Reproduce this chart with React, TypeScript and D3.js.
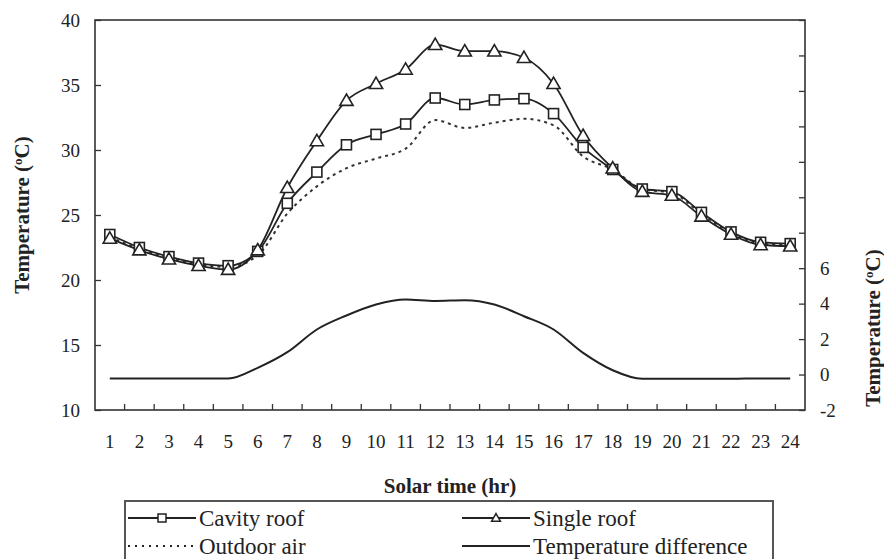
import React, { useEffect, useRef } from "react";
import * as d3 from "d3";

const hours = d3.range(1, 25);
const cavityRoof = [23.5, 22.5, 21.8, 21.3, 21.1, 22.2, 25.9, 28.3, 30.4, 31.2, 32.0, 34.0, 33.5, 33.85, 33.95, 32.8, 30.2, 28.5, 27.0, 26.8, 25.2, 23.7, 22.9, 22.8];
const singleRoof = [23.2, 22.3, 21.6, 21.1, 20.8, 22.3, 27.1, 30.7, 33.8, 35.1, 36.2, 38.1, 37.6, 37.6, 37.1, 35.1, 31.1, 28.6, 26.8, 26.5, 24.9, 23.5, 22.7, 22.6];
const outdoorAir = [23.3, 22.4, 21.7, 21.2, 21.0, 21.9, 25.1, 27.2, 28.6, 29.35, 30.1, 32.3, 31.7, 32.1, 32.4, 31.9, 29.5, 28.5, 27.0, 26.7, 25.1, 23.6, 22.8, 22.7];
const tempDiff = [-0.22, -0.22, -0.23, -0.23, -0.23, 0.38, 1.26, 2.54, 3.33, 3.95, 4.23, 4.15, 4.19, 3.95, 3.29, 2.54, 1.22, 0.24, -0.24, -0.24, -0.24, -0.24, -0.22, -0.22];
const leftTicks = [10, 15, 20, 25, 30, 35, 40];
const rightTicks = d3.range(-2, 21, 2);
const rightLabelled = [-2, 0, 2, 4, 6];

const ink = "#222";
const serif = "'Liberation Serif', Tinos, 'Noto Serif', 'DejaVu Serif', Times, serif";

export default function App() {
  const svgRef = useRef<SVGSVGElement>(null);

  useEffect(() => {
    const svg = d3.select(svgRef.current);
    svg.selectAll("*").remove();

    const left = 95, right = 805, top = 20, bottom = 410;

    const x = d3.scaleBand<number>().domain(hours).range([left, right]);
    const cx = (h: number) => (x(h) as number) + x.bandwidth() / 2;
    const y = d3.scaleLinear().domain([10, 40]).range([bottom, top]);
    const yr = d3.scaleLinear().domain([-2, 20]).range([bottom, top]);

    // frame
    svg.append("rect")
      .attr("x", left).attr("y", top)
      .attr("width", right - left).attr("height", bottom - top)
      .attr("fill", "none").attr("stroke", "#333").attr("stroke-width", 1.6);

    // left axis (ticks inward)
    const gl = svg.append("g").attr("transform", `translate(${left},0)`)
      .call(d3.axisLeft(y).tickValues(leftTicks).tickSizeInner(-6).tickSizeOuter(0).tickPadding(15));
    gl.select(".domain").remove();
    gl.selectAll(".tick line").attr("stroke", "#333").attr("stroke-width", 1.3);
    gl.selectAll(".tick text").attr("fill", ink).style("font-family", serif).style("font-size", "19px");

    // right axis
    const gr = svg.append("g").attr("transform", `translate(${right},0)`)
      .call(d3.axisRight(yr).tickValues(rightTicks).tickSizeInner(-6).tickSizeOuter(0).tickPadding(15)
        .tickFormat(d => (rightLabelled.includes(+d) ? String(d) : "")));
    gr.select(".domain").remove();
    gr.selectAll(".tick line").attr("stroke", "#333").attr("stroke-width", 1.3);
    gr.selectAll(".tick text").attr("fill", ink).style("font-family", serif).style("font-size", "19px");

    // x axis: ticks between categories, pointing up
    const gx = svg.append("g").attr("transform", `translate(0,${bottom})`);
    gx.selectAll("line")
      .data(hours.slice(1))
      .enter()
      .append("line")
      .attr("x1", d => x(d) as number).attr("x2", d => x(d) as number)
      .attr("y1", 0).attr("y2", -6)
      .attr("stroke", "#333").attr("stroke-width", 1.3);
    gx.selectAll("text")
      .data(hours)
      .enter()
      .append("text")
      .attr("x", d => cx(d))
      .attr("y", 38)
      .attr("text-anchor", "middle")
      .attr("fill", ink)
      .style("font-family", serif).style("font-size", "19px")
      .text(d => d);

    // axis titles
    const yTitle = (tx: number, ty: number) => {
      const t = svg.append("text")
        .attr("transform", `translate(${tx},${ty}) rotate(-90)`)
        .attr("text-anchor", "middle")
        .attr("fill", ink)
        .style("font-family", serif).style("font-size", "21px").style("font-weight", "bold");
      t.append("tspan").text("Temperature (");
      t.append("tspan").attr("baseline-shift", "super").style("font-size", "13px").text("o");
      t.append("tspan").text("C)");
    };
    yTitle(29, (top + bottom) / 2);
    yTitle(880, 328);

    svg.append("text")
      .attr("x", (left + right) / 2).attr("y", 493)
      .attr("text-anchor", "middle")
      .attr("fill", ink)
      .style("font-family", serif).style("font-size", "21px").style("font-weight", "bold")
      .text("Solar time (hr)");

    const line = (scale: d3.ScaleLinear<number, number>) =>
      d3.line<number>()
        .x((_, i) => cx(hours[i]))
        .y(d => scale(d))
        .curve(d3.curveMonotoneX);

    // series
    svg.append("path").attr("d", line(yr)(tempDiff))
      .attr("fill", "none").attr("stroke", ink).attr("stroke-width", 2);
    svg.append("path").attr("d", line(y)(outdoorAir))
      .attr("fill", "none").attr("stroke", "#333").attr("stroke-width", 2)
      .attr("stroke-dasharray", "3,4");
    svg.append("path").attr("d", line(y)(cavityRoof))
      .attr("fill", "none").attr("stroke", ink).attr("stroke-width", 1.8);
    svg.append("path").attr("d", line(y)(singleRoof))
      .attr("fill", "none").attr("stroke", ink).attr("stroke-width", 1.8);

    const tri = (s: number) => `M0,${-s * 0.55}L${s * 0.55},${s * 0.4}L${-s * 0.55},${s * 0.4}Z`;

    svg.selectAll(".sq")
      .data(cavityRoof)
      .enter()
      .append("rect")
      .attr("class", "sq")
      .attr("x", (_, i) => cx(hours[i]) - 5)
      .attr("y", d => y(d) - 5)
      .attr("width", 10).attr("height", 10)
      .attr("fill", "#fff").attr("stroke", ink).attr("stroke-width", 1.6);

    svg.selectAll(".tri")
      .data(singleRoof)
      .enter()
      .append("path")
      .attr("class", "tri")
      .attr("transform", (d, i) => `translate(${cx(hours[i])},${y(d)})`)
      .attr("d", tri(12))
      .attr("fill", "#fff").attr("stroke", ink).attr("stroke-width", 1.6);

    // legend
    const lg = svg.append("g");
    lg.append("rect")
      .attr("x", 125).attr("y", 501)
      .attr("width", 648).attr("height", 70)
      .attr("fill", "#fff").attr("stroke", "#555").attr("stroke-width", 2);

    const items = [
      { name: "Cavity roof", x: 128, y: 518, kind: "sq" },
      { name: "Single roof", x: 462, y: 518, kind: "tri" },
      { name: "Outdoor air", x: 128, y: 546, kind: "dot" },
      { name: "Temperature difference", x: 462, y: 546, kind: "line" },
    ];
    items.forEach(it => {
      const g = lg.append("g").attr("transform", `translate(${it.x},${it.y})`);
      g.append("line")
        .attr("x1", 0).attr("x2", 68).attr("y1", 0).attr("y2", 0)
        .attr("stroke", ink).attr("stroke-width", it.kind === "dot" ? 1.8 : 2)
        .attr("stroke-dasharray", it.kind === "dot" ? "2,5" : null);
      if (it.kind === "sq") {
        g.append("rect").attr("x", 30).attr("y", -4).attr("width", 8).attr("height", 8)
          .attr("fill", "#fff").attr("stroke", ink).attr("stroke-width", 1.5);
      } else if (it.kind === "tri") {
        g.append("path").attr("transform", "translate(34,0)").attr("d", tri(8))
          .attr("fill", "#fff").attr("stroke", ink).attr("stroke-width", 1.5);
      }
      g.append("text")
        .attr("x", 71).attr("y", 8)
        .attr("fill", ink)
        .style("font-family", serif).style("font-size", "23px")
        .text(it.name);
    });
  }, []);

  return (
    <svg
      ref={svgRef}
      width={884}
      height={559}
      style={{ position: "absolute", left: 0, top: 0, background: "#fff" }}
    />
  );
}
